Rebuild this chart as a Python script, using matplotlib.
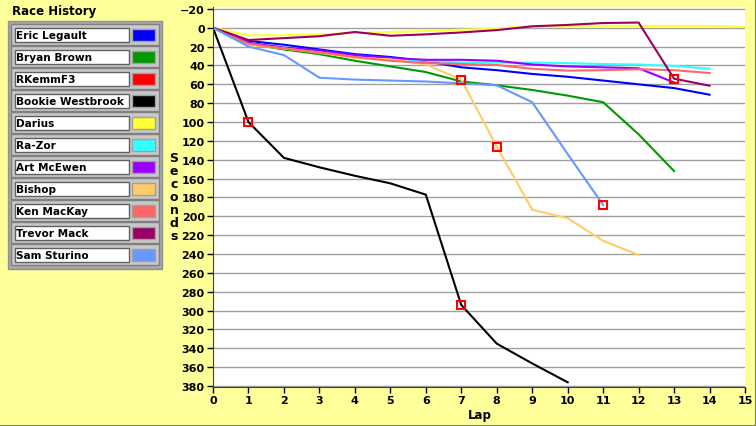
import matplotlib
matplotlib.use("Agg")
import matplotlib.pyplot as plt
from matplotlib.patches import Rectangle

# Rennverlauf pro Fahrer (Sekunden Rückstand je Runde)
names = ['Eric Legault', 'Bryan Brown', 'RKemmF3', 'Bookie Westbrook', 'Darius',
         'Ra-Zor', 'Art McEwen', 'Bishop', 'Ken MacKay', 'Trevor Mack', 'Sam Sturino']
colors = ['#0000FF', '#009900', '#FF0000', '#000000', '#FFFF33',
          '#33FFFF', '#9900FF', '#FFCC66', '#FF6666', '#990066', '#6699FF']

eric = [0, 14, 18, 23, 28, 31, 35.5, 42, 45, 49, 52, 56, 60, 64, 71]
bryan = [0, 17, 23, 28, 35, 41, 47, 57, 61, 66, 72, 79, 113, 152]
rkemm = []
bookie = [0, 100, 138, 148, 157, 165, 177, 294, 335, 356, 376]
darius = [0, 8, 8, 7, 5.5, 4.5, 3.5, 2, 1, -2, -2, -2, -2, -2, -2, -1]
razor = [0, 16, 21, 25, 30, 33, 35, 37, 37, 37, 37.5, 38.5, 39, 40.5, 43.5]
art = [0, 16, 21, 24, 29, 32, 34, 34, 35, 39, 41, 42, 43, 58]
bishop = [0, 18, 22, 26.5, 32, 33.5, 39, 55, 126, 193, 202, 226, 241]
ken = [0, 17, 22, 26, 31, 35, 37.5, 38.5, 39.5, 43.5, 45.5, 45, 44, 45, 48]
trevor = [0, 13, 11, 9, 4.5, 8.5, 7, 5, 2.5, -1.5, -3, -5, -5.5, 54, 61.5]
sam = [0, 20, 29, 53, 55, 56, 57, 59, 61, 79, 134, 188]

series = [eric, bryan, rkemm, bookie, darius, razor, art, bishop, ken, trevor, sam]

# rote Markierungen
mark_laps = [1, 7, 7, 8, 11, 13]
mark_secs = [100, 294, 55, 126, 188, 54]

x_ticks = list(range(0, 16))
y_ticks = list(range(-20, 381, 20))

bg = '#FFFF99'
W, H = 756, 427
fig = plt.figure(figsize=(W / 100, H / 100), dpi=100, facecolor=bg)

# Linkes Panel (Legende) in Pixelkoordinaten
panel = fig.add_axes([0, 0, 1, 1])
panel.set_xlim(0, W)
panel.set_ylim(H, 0)
panel.axis('off')

panel.text(12, 11, 'Race History', fontsize=8.5, fontweight='bold', va='center', ha='left')
panel.add_patch(Rectangle((8, 22), 154, 248, fc='#A8A8A8', ec='#909090', lw=1))
for i, (n, c) in enumerate(zip(names, colors)):
    y0 = 25 + 22 * i
    panel.add_patch(Rectangle((11, y0), 148, 21, fc='#C8C8C8', ec='#808080', lw=1))
    panel.add_patch(Rectangle((15, y0 + 3.5), 114, 14, fc='white', ec='#606060', lw=1))
    panel.add_patch(Rectangle((131.5, y0 + 4.5), 23, 12, fc=c, ec='#A0A0A0', lw=1))
    panel.text(16, y0 + 11, n, fontsize=7.6, fontweight='bold', va='center', ha='left')

# Rahmen unten/rechts
panel.plot([0, W - 0.5, W - 0.5], [H - 0.5, H - 0.5, 0], color='#808040', lw=1.5)

panel.text(174, 198, '\n'.join('Seconds'), fontsize=9, fontweight='bold',
           ha='center', va='center', linespacing=1.0)
panel.text(480, 416, 'Lap', fontsize=8.5, fontweight='bold', ha='center', va='center')

# Diagramm
ax = fig.add_axes([213 / W, 1 - 388 / H, 532 / W, 380 / H])
ax.set_facecolor('white')
for vals, c in zip(series, colors):
    ax.plot(range(len(vals)), vals, color=c, lw=1.5, solid_joinstyle='miter')

ax.plot(mark_laps, mark_secs, ls='none', marker='s', ms=6, mfc='none',
        mec='#FF0000', mew=1.5)

ax.set_xlim(0, 15)
ax.set_ylim(381, -22)
ax.set_xticks(x_ticks)
ax.set_yticks(y_ticks)
ax.yaxis.grid(True, color='#A0A0A0', lw=1)
ax.set_axisbelow(True)
for s in ['top', 'right']:
    ax.spines[s].set_visible(False)
ax.spines['left'].set_color('#404040')
ax.spines['bottom'].set_color('#404040')
ax.tick_params(direction='out', length=4, width=1, labelsize=8, colors='black', pad=2)
for lbl in ax.get_xticklabels() + ax.get_yticklabels():
    lbl.set_fontweight('bold')

fig.savefig('out.png', dpi=100, facecolor=bg)
